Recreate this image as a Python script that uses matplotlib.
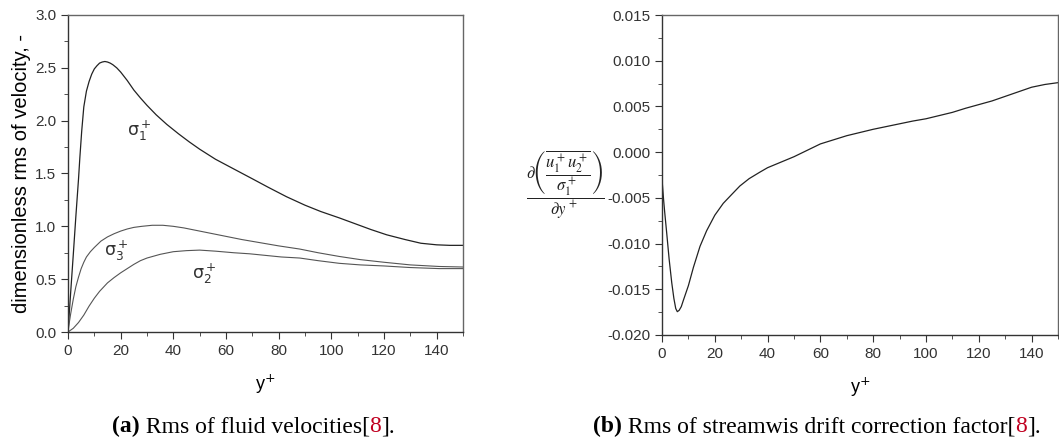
import matplotlib
matplotlib.use('Agg')
import matplotlib.pyplot as plt
from matplotlib.ticker import MultipleLocator

plt.rcParams['font.family'] = ['Liberation Sans', 'DejaVu Sans']
plt.rcParams['mathtext.fontset'] = 'stix'

# sigma_1^+ (streamwise)
y_s1 = [0, 1, 2, 3, 4, 4.5, 5.2, 6, 7, 8, 9, 10, 11, 12, 13, 14, 15, 16, 17, 18.5, 20, 22.5, 25, 27.5, 30,
        33.5, 37.5, 42, 46, 50, 56, 62.8, 70, 76, 83, 90, 96, 103, 109, 115, 121, 128, 134, 140, 145, 150]
s1 = [0, 0.37, 0.73, 1.1, 1.45, 1.65, 1.9, 2.13, 2.28, 2.37, 2.44, 2.49, 2.52, 2.545, 2.555, 2.56, 2.555,
      2.545, 2.53, 2.5, 2.46, 2.38, 2.29, 2.215, 2.145, 2.055, 1.965, 1.875, 1.8, 1.73, 1.635, 1.545,
      1.45, 1.37, 1.28, 1.2, 1.14, 1.08, 1.025, 0.97, 0.92, 0.875, 0.84, 0.825, 0.82, 0.82]

# sigma_3^+ (spanwise)
y_s3 = [0, 0.5, 1, 2, 3, 4, 5, 6, 7, 8.5, 10, 12.5, 15, 17.5, 20, 22.5, 25, 28, 32, 36, 40, 44, 48, 54,
        60, 66, 73, 80, 88, 95, 103, 111, 120, 130, 141, 150]
s3 = [0, 0.09, 0.17, 0.31, 0.43, 0.52, 0.6, 0.66, 0.71, 0.76, 0.8, 0.86, 0.9, 0.93, 0.955, 0.975, 0.99,
      1.0, 1.01, 1.01, 1.0, 0.985, 0.965, 0.935, 0.905, 0.875, 0.845, 0.815, 0.785, 0.75, 0.715, 0.685,
      0.66, 0.635, 0.62, 0.615]

# sigma_2^+ (wall-normal)
y_s2 = [0, 2, 4, 6, 8, 10, 12, 15, 17.5, 20, 22.5, 25, 27.5, 30, 35, 40, 45, 50, 56, 63, 69, 75, 81, 88,
        95, 103, 111, 120, 130, 141, 150]
s2 = [0, 0.035, 0.09, 0.16, 0.245, 0.32, 0.385, 0.465, 0.515, 0.56, 0.6, 0.64, 0.675, 0.7, 0.735, 0.76,
      0.77, 0.775, 0.765, 0.75, 0.74, 0.725, 0.71, 0.7, 0.675, 0.65, 0.635, 0.625, 0.61, 0.6, 0.6]

# drift correction factor
y_d = [0, 0.15, 0.6, 1, 1.8, 2.7, 3.7, 4.5, 5.2, 5.8, 6.5, 7.3, 8.1, 10, 11.9, 14.4, 16.9, 20, 23.2,
       26.5, 29.5, 33, 37, 40, 45, 50, 55, 60, 65, 70, 75, 80, 85, 90, 95, 100, 105, 110, 115, 120, 125,
       130, 135, 140, 145, 150]
drift = [0.0057, -0.0035, -0.0052, -0.0065, -0.0089, -0.0117, -0.0143, -0.016, -0.0171, -0.01745,
         -0.0173, -0.0169, -0.0162, -0.0146, -0.0126, -0.0103, -0.0086, -0.0069, -0.0056, -0.0046,
         -0.0037, -0.0029, -0.0022, -0.0017, -0.0011, -0.0005, 0.0002, 0.0009, 0.00135, 0.0018, 0.00215,
         0.0025, 0.0028, 0.0031, 0.0034, 0.00365, 0.004, 0.00435, 0.0048, 0.0052, 0.0056, 0.0061, 0.0066,
         0.0071, 0.0074, 0.0076]

fig = plt.figure(figsize=(10.59, 4.44), dpi=100)
ax1 = fig.add_axes([68/1059, 1-332/444, 395/1059, 317/444])
ax2 = fig.add_axes([662/1059, 1-335/444, 396/1059, 320/444])

for ax in (ax1, ax2):
    for s in ax.spines.values():
        s.set_color('#666666')
        s.set_linewidth(1.0)
    ax.spines['left'].set_color('#333333')
    ax.spines['bottom'].set_color('#333333')
    ax.tick_params(which='both', direction='out', colors='#333333', labelsize=11, top=False, right=False)
    ax.tick_params(which='major', length=5)
    ax.tick_params(which='minor', length=3)
    ax.set_xlim(0, 150)
    ax.xaxis.set_major_locator(MultipleLocator(20))
    ax.xaxis.set_minor_locator(MultipleLocator(10))
    ax.set_xlabel('y$^{+}$', fontsize=13, math_fontfamily='dejavusans', labelpad=11)

# (a) rms of velocities
ax1.plot(y_s1, s1, color='#222222', lw=0.9)
ax1.plot(y_s3, s3, color='#555555', lw=0.8)
ax1.plot(y_s2, s2, color='#555555', lw=0.8)
ax1.set_ylim(0, 3.0)
ax1.yaxis.set_major_locator(MultipleLocator(0.5))
ax1.yaxis.set_minor_locator(MultipleLocator(0.25))
ax1.yaxis.set_major_formatter(plt.FormatStrFormatter('%.1f'))
ax1.set_ylabel('dimensionless rms of velocity, -', fontsize=14.5, labelpad=3)
ax1.text(22.5, 1.86, r'$\mathrm{\sigma}_1^+$', fontsize=12.5, math_fontfamily='dejavusans', color='#333333')
ax1.text(13.5, 0.72, r'$\mathrm{\sigma}_3^+$', fontsize=12.5, math_fontfamily='dejavusans', color='#333333')
ax1.text(47, 0.5, r'$\mathrm{\sigma}_2^+$', fontsize=12.5, math_fontfamily='dejavusans', color='#333333')

# (b) drift correction factor
ax2.plot(y_d, drift, color='#222222', lw=0.9)
ax2.set_ylim(-0.020, 0.015)
ax2.yaxis.set_major_locator(MultipleLocator(0.005))
ax2.yaxis.set_minor_locator(MultipleLocator(0.0025))
ax2.yaxis.set_major_formatter(plt.FormatStrFormatter('%.3f'))
fig.text(565/1059, 1-185/444,
         r'$\dfrac{\partial\left(\dfrac{\overline{u_1^+ u_2^+}}{\sigma_1^+}\right)}{\partial y^+}$',
         fontsize=12, ha='center', va='center', color='#222222')

# captions
cap_y = 1-432/444
for x0, tag, body in [(112/1059, '(a)', 'Rms of fluid velocities'),
                      (593/1059, '(b)', 'Rms of streamwis drift correction factor')]:
    t1 = fig.text(x0, cap_y, tag, fontsize=17, fontweight='bold', family='Liberation Serif')
    t2 = plt.annotate(' ' + body + '[', xy=(1, 0), xycoords=t1, fontsize=17, family='Liberation Serif',
                      va='bottom', annotation_clip=False)
    t3 = plt.annotate('8', xy=(1, 0), xycoords=t2, fontsize=17, family='Liberation Serif',
                      va='bottom', color='#c00020', annotation_clip=False)
    plt.annotate('].', xy=(1, 0), xycoords=t3, fontsize=17, family='Liberation Serif',
                 va='bottom', annotation_clip=False)

fig.savefig('out.png', dpi=100)
